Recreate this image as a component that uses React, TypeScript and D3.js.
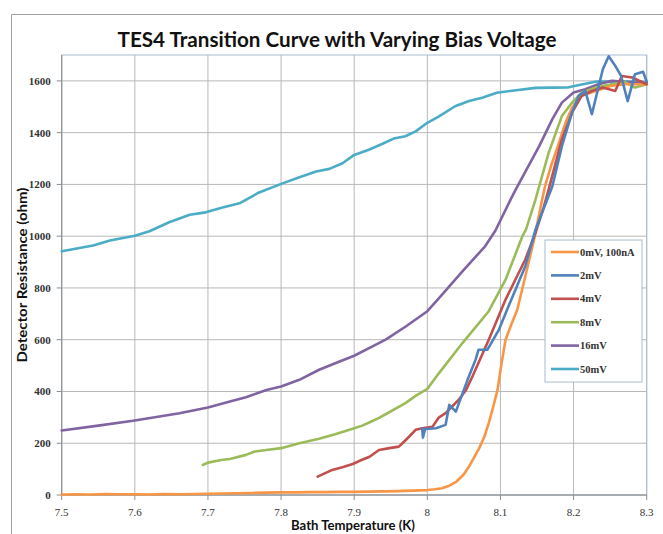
import React from "react";
import * as d3 from "d3";

const title = "TES4 Transition Curve with Varying Bias Voltage";
const xLabel = "Bath Temperature (K)";
const yLabel = "Detector Resistance (ohm)";
const xTicks = [7.5, 7.6, 7.7, 7.8, 7.9, 8, 8.1, 8.2, 8.3];
const yTicks = [0, 200, 400, 600, 800, 1000, 1200, 1400, 1600];
const seriesNames = ["0mV, 100nA", "2mV", "4mV", "8mV", "16mV", "50mV"];
const seriesColors = ["#F79646", "#4F81BD", "#C0504D", "#9BBB59", "#8064A2", "#4BACC6"];

const mv0X = [7.5, 7.52, 7.54, 7.56, 7.58, 7.6, 7.62, 7.64, 7.66, 7.68, 7.7, 7.72, 7.74, 7.76, 7.78, 7.8, 7.82, 7.84, 7.86, 7.88, 7.9, 7.92, 7.94, 7.96, 7.98, 8.0, 8.01, 8.02, 8.03, 8.04, 8.05, 8.057, 8.065, 8.071, 8.078, 8.084, 8.09, 8.096, 8.101, 8.107, 8.115, 8.123, 8.134, 8.146, 8.157, 8.161, 8.169, 8.177, 8.189, 8.198, 8.211, 8.23, 8.252, 8.27, 8.3];
const mv0Y = [2, 3, 2, 4, 3, 3, 2, 4, 3, 4, 5, 6, 7, 8, 9, 10, 10, 11, 11, 12, 12, 13, 14, 15, 17, 19, 22, 26, 36, 52, 80, 110, 150, 181, 225, 278, 340, 406, 500, 600, 660, 716, 845, 987, 1142, 1193, 1270, 1335, 1439, 1497, 1542, 1561, 1581, 1587, 1587];

const mv2X = [7.993, 7.994, 7.997, 8.012, 8.025, 8.03, 8.039, 8.055, 8.066, 8.07, 8.082, 8.098, 8.111, 8.134, 8.148, 8.171, 8.184, 8.198, 8.207, 8.216, 8.225, 8.24, 8.248, 8.257, 8.265, 8.274, 8.284, 8.295, 8.3];
const mv2Y = [258, 222, 255, 258, 271, 348, 322, 445, 523, 561, 561, 639, 729, 884, 1026, 1193, 1348, 1478, 1542, 1561, 1471, 1645, 1695, 1658, 1619, 1522, 1626, 1635, 1597];

const mv4X = [7.85, 7.87, 7.885, 7.898, 7.91, 7.921, 7.934, 7.948, 7.961, 7.966, 7.975, 7.984, 7.993, 8.007, 8.016, 8.025, 8.043, 8.053, 8.062, 8.084, 8.107, 8.134, 8.148, 8.159, 8.166, 8.184, 8.198, 8.211, 8.225, 8.24, 8.257, 8.266, 8.28, 8.3];
const mv4Y = [71, 97, 108, 120, 135, 148, 174, 181, 187, 200, 225, 252, 258, 264, 300, 316, 368, 406, 460, 600, 755, 910, 1013, 1110, 1181, 1374, 1478, 1542, 1561, 1574, 1561, 1619, 1613, 1587];

const mv8X = [7.693, 7.7, 7.718, 7.73, 7.752, 7.764, 7.78, 7.8, 7.825, 7.852, 7.875, 7.9, 7.911, 7.922, 7.934, 7.943, 7.97, 7.985, 8.0, 8.016, 8.048, 8.084, 8.107, 8.13, 8.135, 8.148, 8.153, 8.166, 8.184, 8.198, 8.211, 8.23, 8.252, 8.27, 8.284, 8.3];
const mv8Y = [116, 125, 135, 139, 155, 168, 174, 181, 200, 217, 236, 258, 268, 282, 298, 312, 355, 385, 410, 471, 587, 710, 832, 1000, 1026, 1142, 1193, 1323, 1464, 1516, 1555, 1574, 1587, 1596, 1574, 1587];

const mv16X = [7.5, 7.55, 7.6, 7.661, 7.7, 7.73, 7.752, 7.78, 7.8, 7.825, 7.852, 7.88, 7.9, 7.925, 7.943, 7.971, 8.0, 8.016, 8.048, 8.079, 8.093, 8.114, 8.121, 8.153, 8.171, 8.184, 8.2, 8.216, 8.234, 8.252, 8.3];
const mv16Y = [249, 268, 288, 316, 338, 361, 378, 406, 419, 445, 484, 516, 538, 574, 600, 652, 710, 761, 864, 961, 1021, 1142, 1181, 1348, 1452, 1516, 1555, 1568, 1587, 1600, 1590];

const mv50X = [7.5, 7.543, 7.566, 7.6, 7.62, 7.647, 7.675, 7.697, 7.72, 7.743, 7.77, 7.802, 7.825, 7.848, 7.866, 7.884, 7.9, 7.92, 7.938, 7.954, 7.97, 7.984, 8.0, 8.016, 8.038, 8.057, 8.075, 8.095, 8.116, 8.148, 8.193, 8.211, 8.23, 8.29, 8.3];
const mv50Y = [942, 964, 983, 1002, 1019, 1054, 1083, 1092, 1111, 1127, 1169, 1204, 1228, 1250, 1260, 1282, 1314, 1334, 1356, 1377, 1386, 1405, 1438, 1463, 1502, 1522, 1535, 1554, 1562, 1573, 1575, 1586, 1597, 1597, 1595];

const seriesX = [mv0X, mv2X, mv4X, mv8X, mv16X, mv50X];
const seriesY = [mv0Y, mv2Y, mv4Y, mv8Y, mv16Y, mv50Y];

export default function App() {
  const W = 663, H = 534;
  const left = 61.7, right = 646.7, top = 55, bottom = 495;
  const x = d3.scaleLinear().domain([7.5, 8.3]).range([left, right]);
  const y = d3.scaleLinear().domain([0, 1700]).range([bottom, top]);
  const line = d3.line<[number, number]>().x(d => x(d[0])).y(d => y(d[1]));
  const gridColor = "#b8b8b8";
  const serif = "'Liberation Serif', 'DejaVu Serif', serif";
  const sans = "Lato, 'Open Sans', sans-serif";
  const legX = 545, legY = 240, legW = 97, legH = 142;
  const legStep = 23.4;

  const order = [5, 4, 3, 0, 2, 1];

  return (
    <svg width={W} height={H} style={{ position: "absolute", left: 0, top: 0, background: "#fff" }}>
      <rect x={0} y={0} width={W} height={H} fill="#fff" />
      <path d={`M11.5,${H + 5} L11.5,14.5 L${W + 5},14.5`} fill="none" stroke="#a0a0a0" strokeWidth={1} />
      <text x={337} y={47} textAnchor="middle" fontFamily={sans} fontWeight="bold" fontSize={20} textLength={439} lengthAdjust="spacingAndGlyphs" fill="#111">{title}</text>

      {xTicks.map(t => (
        <line key={"gx" + t} x1={x(t)} x2={x(t)} y1={top} y2={bottom} stroke={gridColor} strokeWidth={1} />
      ))}
      {yTicks.map(t => (
        <line key={"gy" + t} x1={left} x2={right} y1={y(t)} y2={y(t)} stroke={gridColor} strokeWidth={1} />
      ))}
      <rect x={left} y={top} width={right - left} height={bottom - top} fill="none" stroke="#a8bccf" strokeWidth={1} />
      <line x1={left} x2={left} y1={top} y2={bottom} stroke="#8c8c8c" strokeWidth={1} />
      <line x1={left} x2={right} y1={bottom} y2={bottom} stroke="#8c8c8c" strokeWidth={1} />
      {yTicks.map(t => (
        <g key={"ty" + t}>
          <line x1={left - 5} x2={left} y1={y(t)} y2={y(t)} stroke="#8c8c8c" />
          <text x={left - 11} y={y(t) + 4} textAnchor="end" fontFamily={serif} fontWeight="bold" fontSize={11} fill="#333">{t}</text>
        </g>
      ))}
      {xTicks.map(t => (
        <g key={"tx" + t}>
          <line x1={x(t)} x2={x(t)} y1={bottom} y2={bottom + 5} stroke="#8c8c8c" />
          <text x={x(t)} y={bottom + 21} textAnchor="middle" fontFamily={serif} fontSize={11} fill="#333">{String(t)}</text>
        </g>
      ))}
      <text x={353} y={530} textAnchor="middle" fontFamily={sans} fontWeight="bold" fontSize={13} textLength={124} lengthAdjust="spacingAndGlyphs" fill="#111">{xLabel}</text>
      <text transform="translate(27,275) rotate(-90)" textAnchor="middle" fontFamily={sans} fontWeight="bold" fontSize={13} textLength={175} lengthAdjust="spacingAndGlyphs" fill="#111">{yLabel}</text>

      {order.map(i => {
        const pts = seriesX[i].map((v, k) => [v, seriesY[i][k]] as [number, number]);
        return <path key={"s" + i} d={line(pts) || ""} fill="none" stroke={seriesColors[i]} strokeWidth={2.6} strokeLinejoin="round" strokeLinecap="round" />;
      })}

      <rect x={legX} y={legY} width={legW} height={legH} fill="#fff" stroke="#a8bccf" strokeWidth={1} />
      {seriesNames.map((n, i) => (
        <g key={"lg" + i}>
          <line x1={legX + 6} x2={legX + 34} y1={legY + 12 + i * legStep} y2={legY + 12 + i * legStep} stroke={seriesColors[i]} strokeWidth={2.6} />
          <text x={legX + 35} y={legY + 15.5 + i * legStep} fontFamily={serif} fontWeight="bold" fontSize={10.5} fill="#333">{n}</text>
        </g>
      ))}
    </svg>
  );
}
